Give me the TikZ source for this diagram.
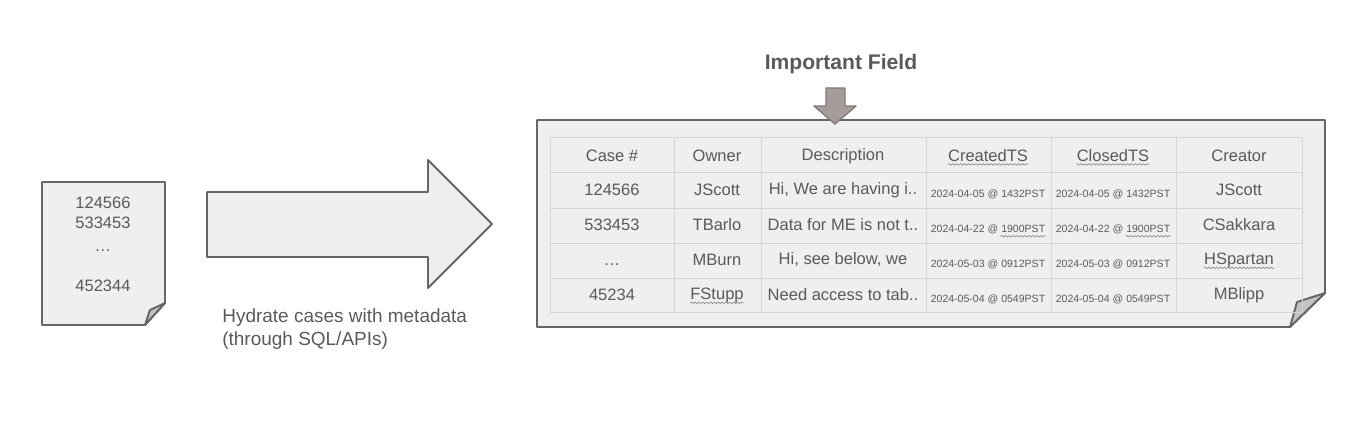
\documentclass[tikz,border=0pt]{standalone}
\usepackage{fontspec}
\setmainfont{Liberation Sans}
\usetikzlibrary{positioning,calc,decorations.pathmorphing}

\definecolor{ink}{HTML}{5A5A5A}
\definecolor{edge}{HTML}{666666}
\definecolor{paper}{HTML}{EFEFEF}
\definecolor{flap}{HTML}{C2C2C2}
\definecolor{rule}{HTML}{D6D6D6}
\definecolor{pointer}{HTML}{A69C9C}
\definecolor{pointeredge}{HTML}{857A7A}

\begin{document}
\begin{tikzpicture}[x=0.02cm,y=-0.02cm,
  every node/.style={text=ink,inner sep=0pt,font=\fontsize{9.4}{11}\selectfont},
  sheet/.style={draw=edge,fill=paper,line width=1.1pt,line join=round},
  fold/.style={draw=edge,fill=flap,line width=1.1pt,line join=round},
  rule line/.style={draw=rule,line width=0.5pt},
  stamp/.style={font=\fontsize{6}{7}\selectfont,yshift=-2.5pt},
  squiggle/.style={draw=edge!80,line width=0.35pt,decorate,
    decoration={snake,amplitude=0.45pt,segment length=2.2pt}}]
  \useasboundingbox (0,0) rectangle (1350,432);

  % case list
  \path[sheet] (42,182) -- (165,182) -- (165,303) -- (145,325) -- (42,325) -- cycle;
  \path[fold] (145,325) -- (150,310) -- (165,303) -- cycle;
  \node (id1) at (103,203) {124566};
  \node (id2) at (103,223) {533453};
  \node (id3) at (103,251) {\dots};
  \node (id4) at (103,286) {452344};

  % hydrate step
  \path[sheet] (207,192) -- (428,192) -- (428,160) -- (492,224) -- (428,288)
    -- (428,257) -- (207,257) -- cycle;
  \node[anchor=west,align=left,font=\fontsize{10.8}{13.2}\selectfont] (cap) at (222,329)
    {Hydrate cases with metadata\\(through SQL/APIs)};

  % hydrated table
  \path[sheet] (537,120) -- (1325,120) -- (1325,293) -- (1290,327) -- (537,327) -- cycle;
  \path[fold] (1290,327) -- (1297,302) -- (1325,293) -- cycle;
  \foreach \x in {550,674,761,926,1051,1176,1302}
    \draw[rule line] (\x,137) -- (\x,312);
  \foreach \y in {137,172,208,243,278,312}
    \draw[rule line] (550,\y) -- (1302,\y);

  \node (h1) at (612,156) {Case \#};
  \node (h2) at (717,156) {Owner};
  \node (h3) at (843,156) {Description};
  \node (h4) at (988,156) {CreatedTS};
  \node (h5) at (1113,156) {ClosedTS};
  \node (h6) at (1239,156) {Creator};

  \node (r1c1) at (612,190) {124566};
  \node (r1c2) at (717,190) {JScott};
  \node (r1c3) at (843,190) {Hi, We are having i..};
  \node[stamp] (r1c4) at (988,190) {2024-04-05 @ 1432PST};
  \node[stamp] (r1c5) at (1113,190) {2024-04-05 @ 1432PST};
  \node (r1c6) at (1239,190) {JScott};

  \node (r2c1) at (612,225) {533453};
  \node (r2c2) at (717,225) {TBarlo};
  \node (r2c3) at (843,225) {Data for ME is not t..};
  \node[stamp] (r2c4) at (988,225) {2024-04-22 @ 1900PST};
  \node[stamp] (r2c5) at (1113,225) {2024-04-22 @ 1900PST};
  \node (r2c6) at (1239,225) {CSakkara};

  \node (r3c1) at (612,265) {\dots};
  \node (r3c2) at (717,260) {MBurn};
  \node (r3c3) at (843,260) {Hi, see below, we};
  \node[stamp] (r3c4) at (988,260) {2024-05-03 @ 0912PST};
  \node[stamp] (r3c5) at (1113,260) {2024-05-03 @ 0912PST};
  \node (r3c6) at (1239,260) {HSpartan};

  \node (r4c1) at (612,295) {45234};
  \node (r4c2) at (717,295) {FStupp};
  \node (r4c3) at (843,295) {Need access to tab..};
  \node[stamp] (r4c4) at (988,295) {2024-05-04 @ 0549PST};
  \node[stamp] (r4c5) at (1113,295) {2024-05-04 @ 0549PST};
  \node (r4c6) at (1239,295) {MBlipp};

  % spell-check marks
  \draw[squiggle] ($(h4.south west)+(0,2)$) -- ($(h4.south east)+(0,2)$);
  \draw[squiggle] ($(h5.south west)+(0,2)$) -- ($(h5.south east)+(0,2)$);
  \draw[squiggle] ($(r2c4.south east)+(-45,2)$) -- ($(r2c4.south east)+(0,2)$);
  \draw[squiggle] ($(r2c5.south east)+(-45,2)$) -- ($(r2c5.south east)+(0,2)$);
  \draw[squiggle] ($(r3c6.south west)+(0,0)$) -- ($(r3c6.south east)+(0,0)$);
  \draw[squiggle] ($(r4c2.south west)+(0,0)$) -- ($(r4c2.south east)+(0,0)$);

  % important field marker
  \node[font=\bfseries\fontsize{12}{14}\selectfont] (imp) at (841,64) {Important Field};
  \path[draw=pointeredge,fill=pointer,line width=0.8pt,line join=round]
    (826,88) -- (845,88) -- (845,106) -- (856,106) -- (835,124) -- (814,106)
    -- (826,106) -- cycle;
\end{tikzpicture}
\end{document}
